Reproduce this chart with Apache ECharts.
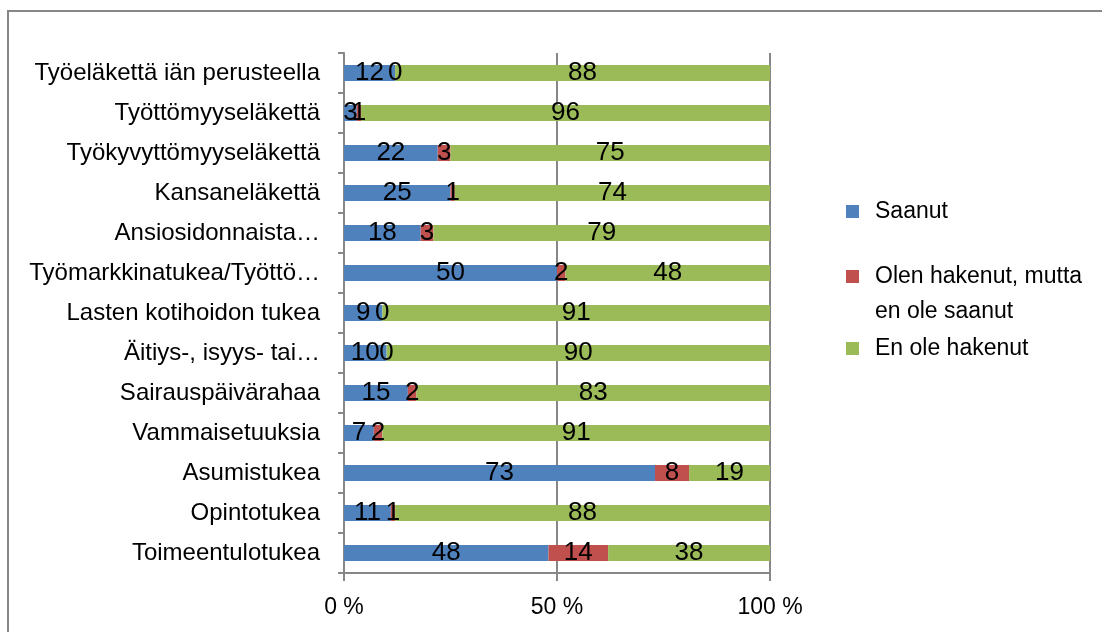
<!DOCTYPE html>
<html>
<head>
<meta charset="utf-8">
<script src="https://cdn.jsdelivr.net/npm/echarts@6/dist/echarts.min.js"></script>
<style>
  html, body { margin: 0; padding: 0; background: #fff; }
  #chart { width: 1102px; height: 632px; }
</style>
</head>
<body>
<div id="chart"></div>
<script>
// categories, top to bottom
const categories = [
  'Työeläkettä iän perusteella',
  'Työttömyyseläkettä',
  'Työkyvyttömyyseläkettä',
  'Kansaneläkettä',
  'Ansiosidonnaista…',
  'Työmarkkinatukea/Työttö…',
  'Lasten kotihoidon tukea',
  'Äitiys-, isyys- tai…',
  'Sairauspäivärahaa',
  'Vammaisetuuksia',
  'Asumistukea',
  'Opintotukea',
  'Toimeentulotukea'
]
const saanut = [12, 3, 22, 25, 18, 50, 9, 10, 15, 7, 73, 11, 48]
const hakenutEiSaanut = [0, 1, 3, 1, 3, 2, 0, 0, 2, 2, 8, 1, 14]
const eiHakenut = [88, 96, 75, 74, 79, 48, 91, 90, 83, 91, 19, 88, 38]
const xTicks = [0, 50, 100]

const FONT = '"Liberation Sans", sans-serif'
const names = ['Saanut', 'Olen hakenut, mutta', 'En ole hakenut']
const colors = ['#4F81BD', '#C0504D', '#9BBB59']

const chart = echarts.init(document.getElementById('chart'))

function makeSeries(name, data, color) {
  return {
    name: name,
    type: 'bar',
    stack: 'all',
    data: data,
    barWidth: '40%',
    itemStyle: { color: color },
    label: {
      show: true,
      position: 'inside',
      color: '#000',
      fontFamily: FONT,
      fontSize: 26
    }
  }
}

const option = {
  animation: false,
  textStyle: { fontFamily: FONT },
  graphic: [
    {
      type: 'rect',
      shape: { x: 8, y: 11, width: 1300, height: 800 },
      style: { fill: 'none', stroke: '#878787', lineWidth: 2 }
    },
    {
      type: 'text',
      left: 875,
      top: 300,
      style: { text: 'en ole saanut', fill: '#000', font: '23px ' + FONT }
    }
  ],
  legend: [
    { data: [names[0]], top: 200 },
    { data: [names[1]], top: 265 },
    { data: [names[2]], top: 337 }
  ].map(l => Object.assign(l, {
    left: 846,
    padding: 0,
    orient: 'vertical',
    itemWidth: 13,
    itemHeight: 13,
    icon: 'rect',
    textStyle: { fontFamily: FONT, fontSize: 23, color: '#000', padding: [0, 0, 0, 11] }
  })),
  grid: { left: 344, right: 332, top: 53, bottom: 59 },
  xAxis: {
    type: 'value',
    min: xTicks[0],
    max: xTicks[xTicks.length - 1],
    interval: 50,
    axisLine: { show: true, lineStyle: { color: '#878787', width: 2 } },
    axisTick: { show: true, length: 8, lineStyle: { color: '#878787', width: 2 } },
    splitLine: { show: true, lineStyle: { color: '#878787', width: 2 } },
    axisLabel: {
      formatter: '{value} %',
      color: '#000',
      fontFamily: FONT,
      fontSize: 23,
      margin: 23
    }
  },
  yAxis: {
    type: 'category',
    inverse: true,
    data: categories,
    axisLine: { show: true, lineStyle: { color: '#878787', width: 2 } },
    axisTick: { show: true, length: 6, lineStyle: { color: '#878787', width: 2 } },
    axisLabel: {
      color: '#000',
      fontFamily: FONT,
      fontSize: 24,
      margin: 24
    }
  },
  series: [
    makeSeries(names[0], saanut, colors[0]),
    makeSeries(names[1], hakenutEiSaanut, colors[1]),
    makeSeries(names[2], eiHakenut, colors[2])
  ]
}

chart.setOption(option)
</script>
</body>
</html>
